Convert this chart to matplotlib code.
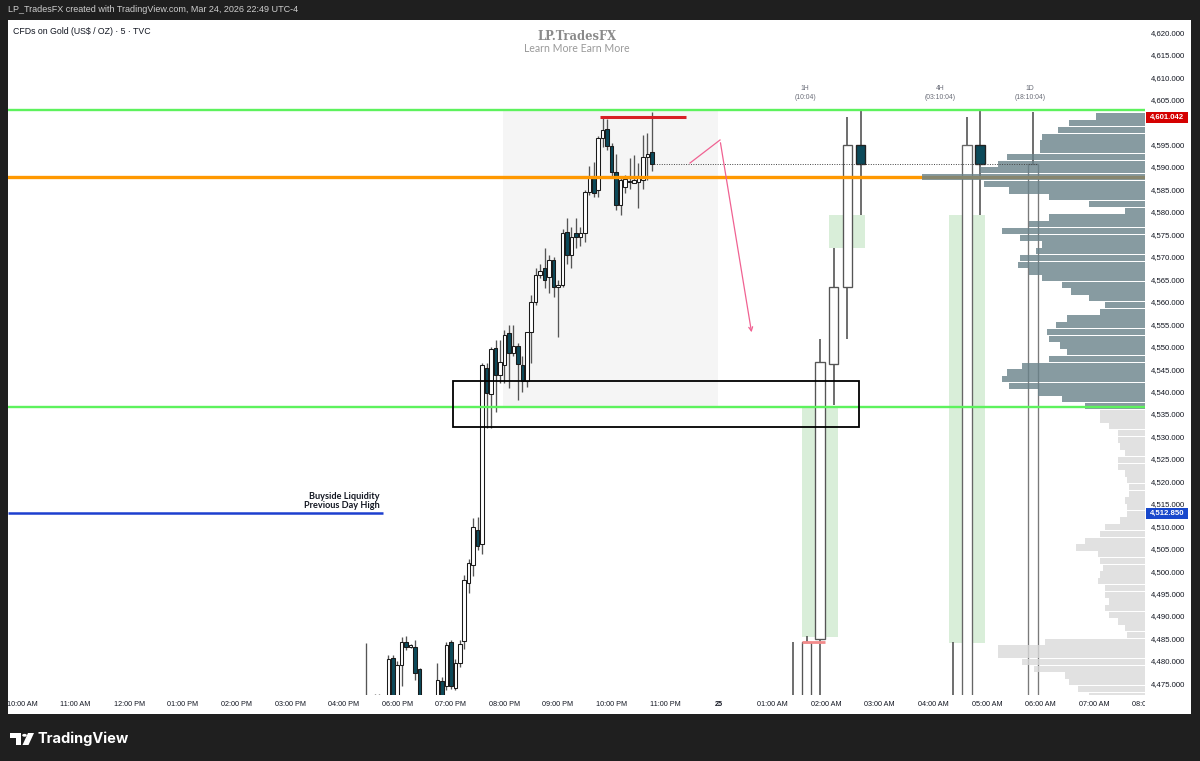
import numpy as np
import matplotlib.pyplot as plt
from matplotlib.patches import Rectangle, Polygon, Circle
from matplotlib.transforms import blended_transform_factory

plt.rcParams['font.family'] = ['Liberation Sans', 'DejaVu Sans']

# ---------------- data ----------------
# 5 minute candles, consecutive bars starting at bar index 77 (bars counted from 10:00 AM)
bar_start = 77
opens = [4470.0, 4468, 4469, 4470, 4469.5, 4470, 4480.6, 4470.5, 4479.1, 4484.1,
         4483.2, 4483.2, 4478.2, 4470, 4467, 4469, 4470.0, 4475.5, 4474.3, 4484.3,
         4473.9, 4479.6, 4484.5, 4497.3, 4501.4, 4509.2, 4506.0, 4545.3, 4539.4, 4549.6,
         4543.7, 4545.9, 4553.1, 4548.6, 4550.2, 4545.9, 4542.3, 4553.3, 4560.0, 4565.9,
         4567.6, 4565.6, 4569.3, 4563.2, 4563.7, 4575.6, 4570.4, 4575.4, 4574.3, 4575.2,
         4584.5, 4588.0, 4584.9, 4596.4, 4598.4, 4594.7, 4588.9, 4581.5, 4585.5, 4586.9,
         4586.5, 4586.7, 4587.1, 4592.2, 4593.4]
highs = [4483.9, 4471, 4472.6, 4472.6, 4471.5, 4481.3, 4481.3, 4480.0, 4485.3, 4485.5,
         4483.8, 4484.7, 4478.5, 4471.5, 4471, 4471.8, 4479.5, 4476.5, 4484.2, 4484.7,
         4480.5, 4484.7, 4499.1, 4502.8, 4511.8, 4512.1, 4546.3, 4546.3, 4550.0, 4551.5,
         4551.5, 4553.7, 4554.8, 4554.8, 4550.7, 4547.8, 4553.3, 4561.5, 4567.4, 4568.5,
         4571.9, 4570.4, 4570.0, 4564.8, 4576.3, 4578.6, 4576.7, 4578.6, 4576.7, 4584.9,
         4590.2, 4591.2, 4596.8, 4601.2, 4600.8, 4595.3, 4593.0, 4587.8, 4588.2, 4591.9,
         4592.7, 4590.8, 4597.1, 4597.5, 4602.3]
lows = [4462.0, 4464, 4465, 4466, 4465, 4468, 4468, 4469, 4474.3, 4482.5,
        4482.8, 4475.8, 4466, 4465, 4464, 4466, 4468, 4469, 4473.5, 4473.8,
        4473.5, 4478.7, 4482.6, 4495.1, 4498.8, 4504.8, 4503.9, 4531.8, 4531.8, 4535.5,
        4541.8, 4541.8, 4540.7, 4547.8, 4538.1, 4540.0, 4540.9, 4546.3, 4559.3, 4565.2,
        4563.0, 4561.9, 4561.1, 4552.2, 4563.3, 4568.5, 4567.4, 4571.9, 4572.3, 4573.4,
        4583.8, 4583.4, 4583.4, 4594.5, 4593.8, 4587.8, 4580.4, 4579.3, 4584.1, 4585.2,
        4586.4, 4580.8, 4585.2, 4587.1, 4589.0]
closes = [4468.0, 4469, 4470, 4469.5, 4470, 4480.4, 4470.5, 4479.0, 4484.3, 4483.2,
          4483.4, 4477.4, 4470.0, 4467, 4469, 4470, 4475.7, 4470.5, 4483.5, 4474.4,
          4479.6, 4483.8, 4498.0, 4501.9, 4509.9, 4505.6, 4545.8, 4539.7, 4549.5, 4543.7,
          4546.5, 4552.6, 4548.6, 4550.2, 4546.1, 4542.3, 4553.3, 4560.0, 4565.9, 4566.9,
          4564.8, 4569.3, 4563.3, 4563.7, 4575.2, 4570.4, 4574.5, 4574.3, 4575.2, 4584.5,
          4587.7, 4584.3, 4596.4, 4598.2, 4594.7, 4588.9, 4581.5, 4587.1, 4587.3, 4586.7,
          4587.1, 4587.7, 4592.2, 4593.0, 4590.6]

# higher time frame candles (1H, 4H, 1D)
h1_open = [4470, 4462, 4484.8, 4546.1, 4563.3, 4594.9]
h1_high = [4484.3, 4485.5, 4551.7, 4571.9, 4601.2, 4602.5]
h1_low = [4455, 4455, 4462, 4537.0, 4551.7, 4579.3]
h1_close = [4466, 4484.3, 4546.6, 4563.3, 4594.9, 4590.6]
h4_open = [4460, 4465, 4594.9]
h4_high = [4484.3, 4601.2, 4602.5]
h4_low = [4450, 4455, 4579.3]
h4_close = [4465, 4594.9, 4590.6]
d1_open = [4462]
d1_high = [4602.3]
d1_low = [4450]
d1_close = [4590.6]
htf_names = ['1H', '4H', '1D']
htf_timers = ['(10:04)', '(03:10:04)', '(18:10:04)']

# levels
green_levels = [4602.7, 4536.55]
orange_level = 4587.8
pdh_level = 4512.85
high_level = 4601.042
last_price = 4590.6

# volume profile (top bin first), step 1.5
vp_top = 4601.25
vp_step = 1.5
vp_value_area_low = 4536.5
vp_volume = [22, 34, 39, 46, 47, 47, 62, 66, 74, 100,
             72, 61, 43, 25, 9, 43, 52, 64, 56, 46,
             49, 56, 57, 52, 46, 37, 33, 25, 18, 20,
             35, 40, 44, 43, 38, 35, 43, 55, 62, 64,
             61, 48, 37, 27,
             20, 20, 16, 12, 12, 11, 9, 12, 12, 9,
             8, 7, 7, 9, 8, 8, 11, 18, 20, 27,
             31, 21, 20, 19, 20, 21, 18, 18, 16, 18,
             16, 12, 9, 8, 45, 66, 66, 55, 50, 36,
             34, 30, 25]

time_labels = ['10:00 AM', '11:00 AM', '12:00 PM', '01:00 PM', '02:00 PM', '03:00 PM',
               '04:00 PM', '06:00 PM', '07:00 PM', '08:00 PM', '09:00 PM', '10:00 PM',
               '11:00 PM', '25', '01:00 AM', '02:00 AM', '03:00 AM', '04:00 AM',
               '05:00 AM', '06:00 AM', '07:00 AM', '08:00 AM']

# ---------------- layout ----------------
W, H = 1200, 761
X0, PXB = 22.0, 4.467          # pixel of bar 0, pixels per bar
Y0, PXP = 32.3, 4.49           # pixel of price 4620, pixels per price unit


def fx(px):
    return px / W


def fy(py):
    return 1 - py / H


def bx(px):
    return (px - X0) / PXB


def py2p(py):
    return 4620 - (py - Y0) / PXP


fig = plt.figure(figsize=(12, 7.61), dpi=100)
fig.patch.set_facecolor('#1f1f1f')
fig.add_artist(Rectangle((fx(8), fy(714)), fx(1191) - fx(8), fy(20) - fy(714),
                         transform=fig.transFigure, facecolor='white', edgecolor='none', zorder=0))

ax = fig.add_axes([fx(8), fy(695), (1145 - 8) / W, (695 - 20) / H])
ax.set_xlim(bx(8), bx(1145))
ax.set_ylim(py2p(695), py2p(20))
ax.set_facecolor('white')
for s in ax.spines.values():
    s.set_visible(False)
ax.set_xticks([])
ax.yaxis.tick_right()
ticks = np.arange(4475, 4621, 5)
ax.set_yticks(ticks)
# labels hidden behind the red price tag are dropped, as on the platform
ax.set_yticklabels(['' if abs(t - high_level) < 2.5 else f'{t:,.3f}' for t in ticks])
ax.tick_params(axis='y', length=0, pad=4.5, labelsize=5.6, labelcolor='#131722')

# time axis strip
axt = fig.add_axes([fx(8), fy(714), (1145 - 8) / W, (714 - 695) / H])
axt.set_xlim(bx(8), bx(1145))
axt.set_ylim(0, 1)
axt.axis('off')
for i, lab in enumerate(time_labels):
    axt.text(12 * i, 0.5, lab, ha='center', va='center', fontsize=5.2, color='#131722',
             clip_on=True, fontweight='bold' if lab == '25' else 'normal')

DOWN = '#0c4a5a'

# shaded session box and zones
ax.add_patch(Rectangle((bx(503), green_levels[1]), bx(718) - bx(503), green_levels[0] - green_levels[1],
                       facecolor='#f5f5f5', edgecolor='none', zorder=1))
fvg_green = '#d9eed9'
ax.add_patch(Rectangle((bx(829), 4571.9), bx(865) - bx(829), 4579.3 - 4571.9, facecolor=fvg_green, edgecolor='none', zorder=1))
ax.add_patch(Rectangle((bx(802), 4485.4), bx(838) - bx(802), 4536.6 - 4485.4, facecolor=fvg_green, edgecolor='none', zorder=1))
ax.add_patch(Rectangle((bx(949), 4484.0), bx(985) - bx(949), 4579.3 - 4484.0, facecolor=fvg_green, edgecolor='none', zorder=1))


def draw_candles(xs, o, h, l, c, width, edge_up, edge_dn, wick, lw, z):
    for x, oo, hh, ll, cc in zip(xs, o, h, l, c):
        up = cc >= oo
        ax.vlines(x, ll, hh, color=wick, lw=lw, zorder=z)
        lo, hi = min(oo, cc), max(oo, cc)
        hi = max(hi, lo + 0.25)
        ax.add_patch(Rectangle((x - width / 2, lo), width, hi - lo,
                               facecolor='white' if up else DOWN,
                               edgecolor=edge_up if up else edge_dn, lw=lw * 0.8, zorder=z + 0.1))


xs5 = np.arange(bar_start, bar_start + len(opens))
draw_candles(xs5, opens, highs, lows, closes, 0.8, '#1a1a1a', '#1a1a1a', '#555555', 0.95, 3)

# HTF candles
h1_x = bx(793) + np.arange(len(h1_open)) * 3.03
h4_x = np.array([bx(953), bx(966.7), bx(980)])
d1_x = np.array([bx(1033)])
draw_candles(h1_x, h1_open, h1_high, h1_low, h1_close, 2.05, '#555555', '#222222', '#555555', 1.2, 3)
draw_candles(h4_x, h4_open, h4_high, h4_low, h4_close, 2.2, '#666666', '#222222', '#555555', 1.2, 3)
draw_candles(d1_x, d1_open, d1_high, d1_low, d1_close, 2.2, '#7a7a7a', '#222222', '#555555', 1.2, 3)
ax.hlines(4484.3, bx(802), bx(825), color='#f28b8b', lw=2, zorder=3.5)

label_x = [bx(805), bx(940), bx(1030)]
for x, n, t in zip(label_x, htf_names, htf_timers):
    ax.text(x, py2p(89), n, ha='center', va='center', fontsize=4.9, color='#6a6d78')
    ax.text(x, py2p(98), t, ha='center', va='center', fontsize=4.9, color='#6a6d78')

# orange level (under the profile)
ax.axhline(orange_level, color='#ff9800', lw=2.4, zorder=4)

# volume profile
vp_centers = vp_top - vp_step * np.arange(len(vp_volume))
vp_w = np.array(vp_volume) * 2.23 / PXB
xr = bx(1145)
cols = ['#69828a' if c > vp_value_area_low else '#dadada' for c in vp_centers]
ax.barh(vp_centers, vp_w, left=xr - vp_w, height=vp_step * 0.93, color=cols,
        alpha=0.8, edgecolor='none', zorder=5)

# green levels
for g in green_levels:
    ax.axhline(g, color='#5df25d', lw=1.7, zorder=6)

# black zone
ax.add_patch(Rectangle((bx(453), 4532.0), bx(859) - bx(453), 4542.3 - 4532.0,
                       facecolor='none', edgecolor='black', lw=1.3, zorder=6))

# dotted last price line
ax.hlines(last_price, bx(654), bx(1038), colors='#444444', linestyles=(0, (1, 1.5)), lw=0.7, zorder=6)

# red high line and previous day high
ax.hlines(high_level, bx(600), bx(686), color='#d81f26', lw=2.2, zorder=6)
ax.hlines(pdh_level, bx(8), bx(383), color='#1d3fcf', lw=1.8, zorder=6)
ax.text(bx(380), 4513.6, 'Buyside Liquidity\nPrevious Day High', ha='right', va='bottom',
        fontsize=6.6, fontweight='bold', color='#131722', linespacing=0.95, family=['Lato', 'DejaVu Sans'])

# pink arrow
pink = '#f06292'
ax.plot([bx(690), bx(720)], [py2p(163), py2p(140)], color=pink, lw=0.9, zorder=6)
ax.annotate('', xy=(bx(752), py2p(335)), xytext=(bx(720), py2p(140)),
            arrowprops=dict(arrowstyle='->', color=pink, lw=0.9, mutation_scale=7), zorder=6)

# price labels on axis
tr = blended_transform_factory(fig.transFigure, ax.transData)
for val, colr in [(high_level, '#d50000'), (pdh_level, '#1848cc')]:
    hgt = 11 / PXP
    ax.add_patch(Rectangle((fx(1146), val - hgt / 2), fx(1188) - fx(1146), hgt, transform=tr,
                           facecolor=colr, edgecolor='none', clip_on=False, zorder=10))
    ax.text(fx(1167), val, f'{val:,.3f}', transform=tr, ha='center', va='center',
            fontsize=5.6, fontweight='bold', color='white', clip_on=False, zorder=11)

# texts
fig.text(fx(8), fy(10), 'LP_TradesFX created with TradingView.com, Mar 24, 2026 22:49 UTC-4',
         color='#cfcfcf', fontsize=6.5, va='center', ha='left')
fig.text(fx(13), fy(31), 'CFDs on Gold (US$ / OZ) · 5 · TVC', color='#131722', fontsize=6.3,
         va='center', ha='left')
fig.text(fx(577), fy(37), 'LP.TradesFX', color='#8a8a8a', fontsize=8.3, fontweight='bold',
         family='DejaVu Serif', ha='center', va='center')
fig.text(fx(577), fy(48), 'Learn More Earn More', color='#9a9a9a', fontsize=7.6,
         family='Lato', ha='center', va='center')

# TradingView logo
logo = [
    Polygon([(fx(10), fy(733)), (fx(21), fy(733)), (fx(21), fy(745)), (fx(16), fy(745)),
             (fx(16), fy(737.5)), (fx(10), fy(737.5))], closed=True),
    Circle((fx(24.5), fy(735.3)), 2.3 / W),
    Polygon([(fx(28), fy(733)), (fx(34), fy(733)), (fx(28.5), fy(745)), (fx(22.5), fy(745))], closed=True),
]
for p in logo:
    p.set_transform(fig.transFigure)
    p.set_facecolor('white')
    p.set_edgecolor('none')
    fig.add_artist(p)
fig.text(fx(38), fy(739), 'TradingView', color='white', fontsize=10.5, fontweight='bold',
         family=['Inter', 'DejaVu Sans'], ha='left', va='center')

fig.savefig('out.png', dpi=100, facecolor=fig.get_facecolor())
